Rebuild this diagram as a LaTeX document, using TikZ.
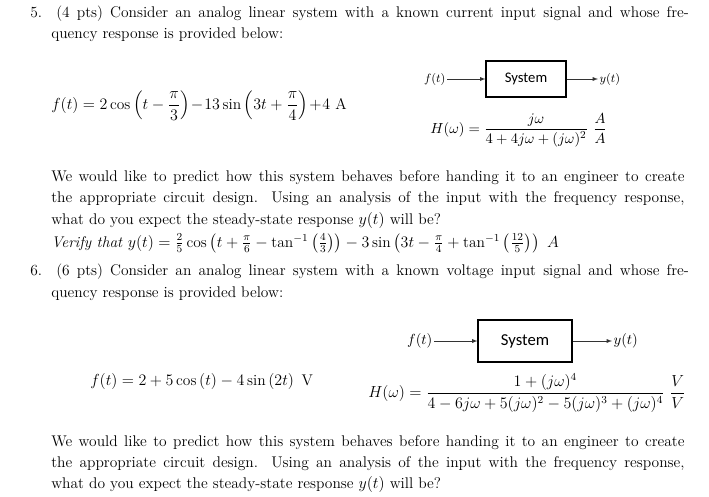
\documentclass[tikz,border=0pt]{standalone}
\usepackage{amsmath}
\usepackage{fontspec}
\newfontfamily\calfont{Carlito}
\begin{document}
\begin{tikzpicture}[x=0.75pt,y=-0.75pt,
  ln/.style={anchor=west,inner sep=0pt,font=\fontsize{11.6}{14}\selectfont},
  blk/.style={draw,thick,inner sep=0pt,font=\calfont\fontsize{11}{13}\selectfont},
  sig/.style={inner sep=1pt,font=\calfont\itshape\fontsize{9}{11}\selectfont},
  arr/.style={-latex,thin,draw=black!80}]
\useasboundingbox (0,0) rectangle (709,496);
\node[ln] (l1) at (30,14) {\hbox to 494pt{5.\ \ (4 pts) Consider an analog linear system with a known current input signal and whose fre-}};
\node[ln] (l2) at (51,35) {quency response is provided below:};
\node[ln] (fe1) at (51,106) {$f(t)=2\cos\left(t-\dfrac{\pi}{3}\right)\!-\!13\sin\left(3t+\dfrac{\pi}{4}\right)\!+\!4\ \mathrm{A}$};
\node[blk,minimum width=60pt,minimum height=27pt] (s1) at (526,79) {System};
\node[sig,anchor=east] (f1) at (447,79) {$f(t)$};
\node[sig,anchor=west] (y1) at (598,79) {$y(t)$};
\draw[arr] (f1) -- (s1);
\draw[arr] (s1) -- (y1);
\node[ln,font=\fontsize{10.8}{13}\selectfont] (h1) at (430,130) {$H(\omega)=\dfrac{j\omega}{4+4j\omega+(j\omega)^2}\ \dfrac{A}{A}$};
\node[ln] (p1) at (51,178) {\hbox to 475pt{We would like to predict how this system behaves before handing it to an engineer to create}};
\node[ln] (p2) at (51,199) {\hbox to 475pt{the appropriate circuit design. Using an analysis of the input with the frequency response,}};
\node[ln] (p3) at (51,220) {what do you expect the steady-state response $y(t)$ will be?};
\node[ln] (v1) at (51,243) {\textit{Verify that} $y(t)=\frac{2}{5}\cos\left(t+\frac{\pi}{6}-\tan^{-1}\left(\frac{4}{3}\right)\right)-3\sin\left(3t-\frac{\pi}{4}+\tan^{-1}\left(\frac{12}{5}\right)\right)\ A$};
\node[ln] (l3) at (30,272) {\hbox to 494pt{6.\ \ (6 pts) Consider an analog linear system with a known voltage input signal and whose fre-}};
\node[ln] (l4) at (51,294) {quency response is provided below:};
\node[blk,minimum width=70.5pt,minimum height=31.5pt,font=\calfont\fontsize{12.5}{14}\selectfont] (s2) at (525,341) {System};
\node[sig,anchor=east,font=\calfont\itshape\fontsize{10.5}{12}\selectfont] (f2) at (434,341) {$f(t)$};
\node[sig,anchor=west,font=\calfont\itshape\fontsize{10.5}{12}\selectfont] (y2) at (612,341) {$y(t)$};
\draw[arr] (f2) -- (s2);
\draw[arr] (s2) -- (y2);
\node[ln] (fe2) at (90,381) {$f(t)=2+5\cos\left(t\right)-4\sin\left(2t\right)\ \mathrm{V}$};
\node[ln] (h2) at (368,393) {$H(\omega)=\dfrac{1+(j\omega)^4}{4-6j\omega+5(j\omega)^2-5(j\omega)^3+(j\omega)^4}\ \dfrac{V}{V}$};
\node[ln] (p4) at (51,443) {\hbox to 475pt{We would like to predict how this system behaves before handing it to an engineer to create}};
\node[ln] (p5) at (51,464) {\hbox to 475pt{the appropriate circuit design. Using an analysis of the input with the frequency response,}};
\node[ln] (p6) at (51,484) {what do you expect the steady-state response $y(t)$ will be?};
\end{tikzpicture}
\end{document}
